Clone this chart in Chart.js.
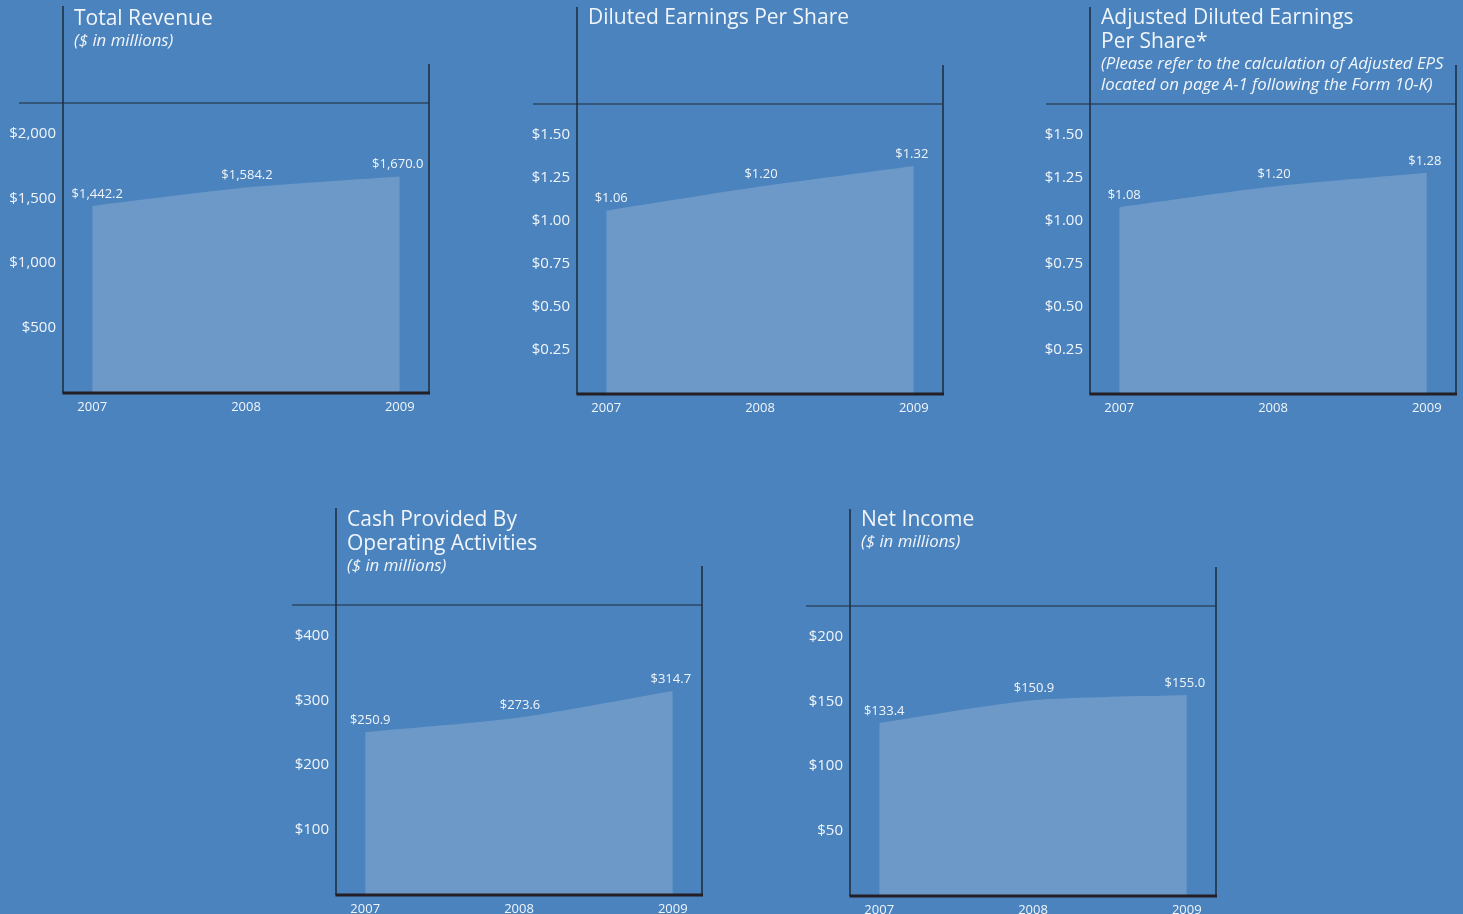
<!DOCTYPE html>
<html>
<head>
<meta charset="utf-8">
<script src="https://cdn.jsdelivr.net/npm/chart.js@4.4.1/dist/chart.umd.min.js"></script>
<style>
body { margin:0; background:#4a83bd; width:1463px; height:914px; overflow:hidden; font-family:"Open Sans", sans-serif; color:#f1f5fa; }
.panel { position:absolute; width:436px; height:420px; }
.panel canvas { position:absolute; left:0; top:0; }
.title { position:absolute; left:74px; top:5px; font-size:21px; line-height:24px; white-space:nowrap; }
.note { font-style:italic; font-size:16.8px; line-height:21px; margin-top:0px; }
</style>
</head>
<body>

<div class="panel" style="left:0px;top:0px">
  <canvas id="revenueChart" width="436" height="420"></canvas>
  <div class="title">Total Revenue<div class="note">($ in millions)</div></div>
</div>
<div class="panel" style="left:514px;top:1px">
  <canvas id="dilutedChart" width="436" height="420"></canvas>
  <div class="title" style="top:3px">Diluted Earnings Per Share</div>
</div>
<div class="panel" style="left:1027px;top:1px">
  <canvas id="adjustedChart" width="436" height="420"></canvas>
  <div class="title" style="top:3px">Adjusted Diluted Earnings<br>Per Share*<div class="note">(Please refer to the calculation of Adjusted EPS<br>located on page A-1 following the Form 10-K)</div></div>
</div>
<div class="panel" style="left:273px;top:502px">
  <canvas id="cashChart" width="436" height="420"></canvas>
  <div class="title" style="top:4px">Cash Provided By<br>Operating Activities<div class="note">($ in millions)</div></div>
</div>
<div class="panel" style="left:787px;top:503px">
  <canvas id="incomeChart" width="436" height="420"></canvas>
  <div class="title" style="top:3px">Net Income<div class="note">($ in millions)</div></div>
</div>

<script>
const years = ["2007", "2008", "2009"];

const revenue = [1442.2, 1584.2, 1670.0];
const dilutedEps = [1.06, 1.20, 1.32];
const adjustedEps = [1.08, 1.20, 1.28];
const operatingCash = [250.9, 273.6, 314.7];
const netIncome = [133.4, 150.9, 155.0];

const revenueTicks = [500, 1000, 1500, 2000];
const epsTicks = [0.25, 0.50, 0.75, 1.00, 1.25, 1.50];
const cashTicks = [100, 200, 300, 400];
const incomeTicks = [50, 100, 150, 200];

const textColor = "#f1f5fa";
const lineColor = "#1f2b3b";
const labelShift = [5, 1, -2];   // small horizontal nudge of the value labels
const labelFormats = {};

function dollars(v) {
    return "$" + Number(v).toLocaleString("en-US");
}
function dollars1(v) {
    return "$" + Number(v).toLocaleString("en-US", {minimumFractionDigits: 1, maximumFractionDigits: 1});
}
function dollars2(v) {
    return "$" + Number(v).toFixed(2);
}

const framePlugin = {
    id: "frame",
    afterDraw(chart) {
        const ctx = chart.ctx;
        const a = chart.chartArea;
        ctx.save();
        ctx.strokeStyle = lineColor;

        ctx.lineWidth = 1.5;
        ctx.beginPath();
        ctx.moveTo(a.left, 6); ctx.lineTo(a.left, a.bottom + 1);
        ctx.moveTo(a.right, 64); ctx.lineTo(a.right, a.bottom + 1);
        ctx.stroke();

        ctx.lineWidth = 1.2;
        ctx.beginPath();
        ctx.moveTo(19, a.top); ctx.lineTo(a.right, a.top);
        ctx.stroke();

        ctx.strokeStyle = "#241f24";
        ctx.lineWidth = 3;
        ctx.beginPath();
        ctx.moveTo(a.left - 0.5, a.bottom + 1); ctx.lineTo(a.right + 1, a.bottom + 1);
        ctx.stroke();

        // value labels above each point
        const meta = chart.getDatasetMeta(0);
        const fmt = labelFormats[chart.canvas.id];
        const values = chart.data.datasets[0].data;
        ctx.fillStyle = textColor;
        ctx.font = "13px 'Open Sans'";
        ctx.textAlign = "center";
        ctx.textBaseline = "middle";
        meta.data.forEach((pt, i) => {
            ctx.fillText(fmt(values[i].y), pt.x + labelShift[i], pt.y - 12);
        });
        ctx.restore();
    }
};

function makeChart(id, values, ticks, max, tickFmt, labelFmt) {
    labelFormats[id] = labelFmt;
    new Chart(document.getElementById(id), {
        type: "line",
        data: {
            labels: years,
            datasets: [{
                data: values.map((v, i) => ({x: i, y: v})),
                fill: "origin",
                backgroundColor: "#6d99c9",
                borderWidth: 0,
                pointRadius: 0,
                tension: 0.25
            }]
        },
        options: {
            responsive: false,
            animation: false,
            layout: {padding: {top: 103, right: 7, left: 0, bottom: 0}},
            plugins: {
                legend: {display: false},
                tooltip: {enabled: false}
            },
            scales: {
                x: {
                    type: "linear",
                    min: -0.19,
                    max: 2.19,
                    grid: {display: false, drawTicks: false},
                    border: {display: false},
                    afterBuildTicks: s => { s.ticks = years.map((y, i) => ({value: i})); },
                    afterFit: s => { s.height = 28; },
                    ticks: {
                        color: textColor,
                        font: {family: "Open Sans", size: 13},
                        padding: 7,
                        maxRotation: 0,
                        callback: v => years[v]
                    }
                },
                y: {
                    min: 0,
                    max: max,
                    grid: {display: false, drawTicks: false},
                    border: {display: false},
                    afterBuildTicks: s => { s.ticks = ticks.map(v => ({value: v})); },
                    afterFit: s => { s.width = 63; },
                    ticks: {
                        color: textColor,
                        font: {family: "Open Sans", size: 15},
                        padding: 7,
                        callback: v => tickFmt(v)
                    }
                }
            }
        },
        plugins: [framePlugin]
    });
}

makeChart("revenueChart", revenue, revenueTicks, 2240, dollars, dollars1);
makeChart("dilutedChart", dilutedEps, epsTicks, 1.68, dollars2, dollars2);
makeChart("adjustedChart", adjustedEps, epsTicks, 1.68, dollars2, dollars2);
makeChart("cashChart", operatingCash, cashTicks, 448, dollars, dollars1);
makeChart("incomeChart", netIncome, incomeTicks, 224, dollars, dollars1);
</script>
</body>
</html>
